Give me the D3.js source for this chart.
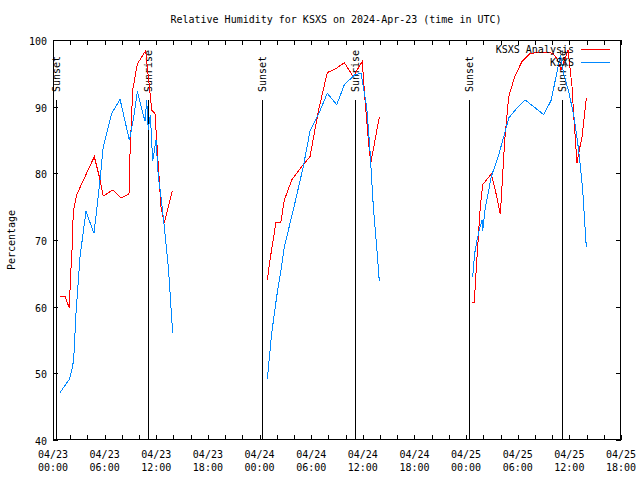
<!DOCTYPE html>
<html><head><meta charset="utf-8">
<script src="https://cdn.jsdelivr.net/npm/d3@7"></script>
<style>
body{margin:0;background:#fff}
svg{display:block}
text{font-family:"DejaVu Sans Mono","Liberation Mono",monospace;font-size:10px;fill:#000}
</style>
</head><body>
<svg id="c" width="640" height="480"></svg>
<script>
// ---- data (hours since 2024-04-23 00:00 UTC; null = gap between days) ----
const analysisHours = [0.81,1.39,1.89,2.06,2.21,2.36,2.75,4.80,5.38,5.84,6.94,7.87,8.83,8.95,9.26,9.80,10.77,11.47,11.85,12.12,12.55,12.93,13.86,
  null,
  24.90,25.21,25.71,25.88,26.46,26.88,27.74,29.08,29.86,30.36,30.83,31.87,32.97,33.85,34.89,35.94,36.25,36.64,36.92,37.91,
  null,
  48.69,48.95,49.15,49.65,49.93,50.93,51.39,51.98,52.17,52.49,52.95,53.65,54.50,55.46,57.17,58.10,58.65,59.03,59.84,60.31,60.50,60.89,61.08,61.47,61.97];
const analysisValues = [61.6,61.6,59.8,65.0,68.5,74.3,76.8,82.5,79.5,76.6,77.5,76.3,76.9,83.0,92.5,96.4,98.4,89.5,89.0,83.5,75.0,72.5,77.3,
  null,
  64.0,67.0,71.0,72.6,72.6,76.0,79.0,81.3,82.5,86.0,89.3,95.1,95.8,96.6,94.5,96.8,91.0,85.0,81.5,88.4,
  null,
  60.6,60.6,65.0,75.0,78.3,79.9,77.5,73.9,78.0,85.0,91.5,94.5,96.8,98.0,98.2,98.0,97.0,95.5,98.5,93.0,88.8,81.5,83.0,85.5,91.3];

const obsHours = [0.81,1.89,2.29,2.44,2.67,3.14,3.83,4.76,5.08,5.46,5.84,6.82,7.79,8.87,9.33,9.80,10.69,10.89,11.07,11.31,11.58,11.97,12.24,12.55,12.93,13.40,13.91,
  null,
  24.90,25.41,25.99,26.49,26.88,27.92,29.08,29.86,30.83,31.87,32.97,33.85,35.09,35.79,36.06,36.45,36.83,37.22,37.61,37.91,
  null,
  48.77,49.00,49.27,49.53,49.85,49.93,50.23,50.93,51.79,52.49,52.95,53.92,54.88,57.02,57.90,58.76,58.97,59.33,59.91,60.50,61.08,61.55,61.97];
const obsValues = [47.1,49.1,51.0,53.0,59.0,67.5,74.3,71.0,74.5,79.0,84.0,89.0,91.1,85.0,88.0,92.3,87.8,91.0,86.5,88.8,81.8,85.0,79.5,76.5,72.0,66.0,56.0,
  null,
  49.1,56.0,61.5,65.5,69.0,74.5,81.0,86.3,88.8,92.0,90.3,93.3,94.8,95.0,93.0,90.0,83.5,75.0,69.0,63.9,
  null,
  64.5,68.0,70.0,71.5,73.0,71.3,74.8,79.5,82.8,86.0,88.3,89.8,91.0,88.8,91.0,96.5,97.7,95.0,92.3,88.8,83.5,77.5,68.9];

const sunsetHours = [0.30, 24.27, 48.30];
const sunriseHours = [11.08, 35.09, 59.14];

const xTickHours = [0,6,12,18,24,30,36,42,48,54,60,66];
const xTickLabels = ["04/23 00:00","04/23 06:00","04/23 12:00","04/23 18:00","04/24 00:00","04/24 06:00","04/24 12:00","04/24 18:00","04/25 00:00","04/25 06:00","04/25 12:00","04/25 18:00"];
const yTicks = [40,50,60,70,80,90,100];

const seriesNames = ["KSXS Analysis","KSXS"];
const titleText = "Relative Humidity for KSXS on 2024-Apr-23 (time in UTC)";

// ---- drawing ----
const svg = d3.select("#c");
const L = 53, R = 621, T = 40, B = 440;
const x = d3.scaleLinear().domain([0,66]).range([L,R]);
const y = d3.scaleLinear().domain([40,100]).range([B,T]);
const tick = 5;

svg.append("text").attr("x",336).attr("y",23).attr("text-anchor","middle").text(titleText);

svg.append("text").attr("transform","translate(15,"+((T+B)/2)+") rotate(-90)")
  .attr("text-anchor","middle").text("Percentage");

// y ticks
const g = svg.append("g").attr("shape-rendering","crispEdges");
yTicks.forEach(v=>{
  const yy = Math.round(y(v))+0.5;
  g.append("line").attr("x1",L).attr("x2",L+tick).attr("y1",yy).attr("y2",yy).attr("stroke","#000");
  g.append("line").attr("x1",R-tick).attr("x2",R).attr("y1",yy).attr("y2",yy).attr("stroke","#000");
  svg.append("text").attr("x",47).attr("y",yy+4).attr("text-anchor","end").text(v);
});
// x ticks every 2 hours
d3.range(0,67,2).forEach(h=>{
  const xx = Math.round(x(h))+0.5;
  g.append("line").attr("x1",xx).attr("x2",xx).attr("y1",B).attr("y2",B-tick).attr("stroke","#000");
  g.append("line").attr("x1",xx).attr("x2",xx).attr("y1",T).attr("y2",T+tick).attr("stroke","#000");
});
xTickHours.forEach((h,i)=>{
  const parts = xTickLabels[i].split(" ");
  const t = svg.append("text").attr("text-anchor","middle");
  t.append("tspan").attr("x",x(h)).attr("y",458).text(parts[0]);
  t.append("tspan").attr("x",x(h)).attr("y",471).text(parts[1]);
});

// sun lines
const lineTop = y(40 + 0.85*60);
function sunMark(h,label){
  const xx = Math.round(x(h))+0.5;
  g.append("line").attr("x1",xx).attr("x2",xx).attr("y1",lineTop).attr("y2",B).attr("stroke","#000");
  svg.append("text").attr("transform","translate("+(xx+3.5)+","+(lineTop-8)+") rotate(-90)")
    .attr("text-anchor","start").text(label);
}
sunsetHours.forEach(h=>sunMark(h,"Sunset"));
sunriseHours.forEach(h=>sunMark(h,"Sunrise"));

// lines
function path(hours,vals,color){
  const pts = hours.map((h,i)=>[h,vals[i]]);
  const line = d3.line().defined(d=>d[0]!==null&&d[1]!==null).x(d=>x(d[0])).y(d=>y(d[1]));
  svg.append("path").attr("d",line(pts)).attr("fill","none").attr("stroke",color)
    .attr("stroke-width",1).attr("shape-rendering","crispEdges");
}
const colors = ["#ff0000","#0088ff"];
path(analysisHours,analysisValues,colors[0]);
path(obsHours,obsValues,colors[1]);

// legend
seriesNames.forEach((n,i)=>{
  const ly = 49 + i*13;
  svg.append("text").attr("x",574).attr("y",ly+4).attr("text-anchor","end").text(n);
  g.append("line").attr("x1",581).attr("x2",610).attr("y1",ly+0.5).attr("y2",ly+0.5).attr("stroke",colors[i]);
});

// border
g.append("rect").attr("x",L+0.5).attr("y",T+0.5).attr("width",R-L-1).attr("height",B-T-1)
  .attr("fill","none").attr("stroke","#000");
</script>
</body></html>
